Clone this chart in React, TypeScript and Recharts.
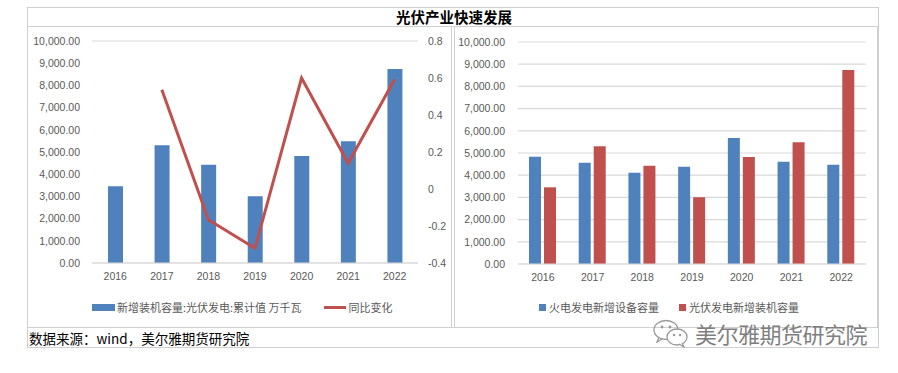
import React from "react";
import { Bar, BarChart, CartesianGrid, ComposedChart, Line, XAxis, YAxis } from "recharts";

const years = ["2016", "2017", "2018", "2019", "2020", "2021", "2022"];
const pvAdded = [3454, 5306, 4426, 3011, 4820, 5488, 8741];
const pvYoy = [null, 0.536, -0.166, -0.32, 0.6, 0.139, 0.593];
const thermalAdded = [4836, 4560, 4110, 4380, 5680, 4610, 4470];

const leftTicks = [0, 1000, 2000, 3000, 4000, 5000, 6000, 7000, 8000, 9000, 10000];
const rightTicks = [-0.4, -0.2, 0, 0.2, 0.4, 0.6, 0.8];

const pvName = "新增装机容量:光伏发电:累计值 万千瓦";
const yoyName = "同比变化";
const thermalName = "火电发电新增设备容量";
const pvName2 = "光伏发电新增装机容量";

const leftData = years.map((y, i) => ({ year: y, pv: pvAdded[i], yoy: pvYoy[i] }));
const rightData = years.map((y, i) => ({ year: y, thermal: thermalAdded[i], pv: pvAdded[i] }));

const BLUE = "#4F81BD";
const RED = "#C0504D";
const GRID = "#d9d9d9";
const TEXT = "#595959";
const FRAME = "#d0d0d0";

const tickFont = { fontSize: 10.5, fill: TEXT, fontFamily: "Liberation Sans, Arial, sans-serif" };
const cjk = '"Noto Sans CJK SC", sans-serif';

const fmtNum = (v: number) =>
  v.toLocaleString("en-US", { minimumFractionDigits: 2, maximumFractionDigits: 2 });
const fmtPct = (v: number) => String(Number(v.toFixed(1)));

function WeChatIcon() {
  return (
    <svg width={40} height={30} viewBox="0 0 40 30">
      <ellipse cx={15} cy={12} rx={12} ry={9.5} fill="none" stroke="#999" strokeWidth={1.3} />
      <path d="M8 19 L6 24 L12 20.5" fill="none" stroke="#999" strokeWidth={1.3} />
      <circle cx={11} cy={9} r={1.4} fill="#999" />
      <circle cx={19} cy={9} r={1.4} fill="#999" />
      <ellipse cx={26} cy={19} rx={10} ry={8} fill="#fff" stroke="#999" strokeWidth={1.3} />
      <path d="M31 25 L33 29 L28 26" fill="#fff" stroke="#999" strokeWidth={1.3} />
      <circle cx={23} cy={17} r={1.2} fill="#999" />
      <circle cx={29} cy={17} r={1.2} fill="#999" />
    </svg>
  );
}

export default function App() {
  return (
    <div style={{ position: "absolute", left: 0, top: 0, width: 898, height: 373, background: "#fff", overflow: "hidden" }}>
      {/* outer frame */}
      <div style={{ position: "absolute", left: 27, top: 7, width: 852, height: 341, border: `1px solid ${FRAME}`, boxSizing: "border-box" }} />
      <div style={{ position: "absolute", left: 27, top: 26, width: 852, height: 1, background: FRAME }} />
      <div style={{ position: "absolute", left: 27, top: 327, width: 852, height: 1, background: FRAME }} />
      <div style={{ position: "absolute", left: 27, top: 7, width: 852, height: 19, textAlign: "center", fontFamily: cjk, fontWeight: 700, fontSize: 14.5, lineHeight: "19px", color: "#000", paddingLeft: 2, boxSizing: "border-box" }}>
        光伏产业快速发展
      </div>

      {/* left panel */}
      <div style={{ position: "absolute", left: 27, top: 27, width: 425, height: 300, borderRight: `1px solid ${FRAME}`, boxSizing: "border-box" }}>
        <ComposedChart width={424} height={300} data={leftData} margin={{ top: 14, right: 0, bottom: 34, left: 0 }}>
          <CartesianGrid vertical={false} stroke={GRID} strokeWidth={1.2} />
          <XAxis dataKey="year" height={30} tick={tickFont} tickLine={false} axisLine={{ stroke: GRID }} tickMargin={4} />
          <YAxis yAxisId="l" width={65} domain={[0, 10000]} ticks={leftTicks} tickFormatter={fmtNum} tick={tickFont} tickLine={false} axisLine={false} tickMargin={6} interval={0} />
          <YAxis yAxisId="r" orientation="right" width={33} domain={[-0.4, 0.8]} ticks={rightTicks} tickFormatter={fmtPct} tick={tickFont} tickLine={false} axisLine={false} tickMargin={4} interval={0} />
          <Bar yAxisId="l" dataKey="pv" name={pvName} fill={BLUE} barSize={15} isAnimationActive={false} />
          <Line yAxisId="r" dataKey="yoy" name={yoyName} stroke={RED} strokeWidth={3} dot={false} connectNulls={false} isAnimationActive={false} />
        </ComposedChart>
      </div>
      <div style={{ position: "absolute", left: 92, top: 299, height: 16, display: "flex", alignItems: "center", fontFamily: cjk, fontSize: 11, color: TEXT, whiteSpace: "nowrap" }}>
        <span style={{ display: "inline-block", width: 23, height: 7, background: BLUE, marginRight: 2 }} />
        <span>{pvName}</span>
        <span style={{ display: "inline-block", width: 22, height: 3, background: RED, marginLeft: 22, marginRight: 3 }} />
        <span>{yoyName}</span>
      </div>

      {/* right panel */}
      <div style={{ position: "absolute", left: 454, top: 27, width: 424, height: 301, borderLeft: `1px solid ${FRAME}`, borderRight: `1px solid ${FRAME}`, boxSizing: "border-box" }}>
        <BarChart width={422} height={301} data={rightData} margin={{ top: 15, right: 11, bottom: 34, left: 0 }} barGap={3}>
          <CartesianGrid vertical={false} stroke={GRID} strokeWidth={1.2} />
          <XAxis dataKey="year" height={30} tick={tickFont} tickLine={false} axisLine={{ stroke: GRID }} tickMargin={4} />
          <YAxis width={63} domain={[0, 10000]} ticks={leftTicks} tickFormatter={fmtNum} tick={tickFont} tickLine={false} axisLine={false} tickMargin={7} interval={0} />
          <Bar dataKey="thermal" name={thermalName} fill={BLUE} barSize={12} isAnimationActive={false} />
          <Bar dataKey="pv" name={pvName2} fill={RED} barSize={12} isAnimationActive={false} />
        </BarChart>
      </div>
      <div style={{ position: "absolute", left: 539, top: 299, height: 16, display: "flex", alignItems: "center", fontFamily: cjk, fontSize: 11, color: TEXT, whiteSpace: "nowrap" }}>
        <span style={{ display: "inline-block", width: 7, height: 7, background: BLUE, marginRight: 3 }} />
        <span>{thermalName}</span>
        <span style={{ display: "inline-block", width: 7, height: 7, background: RED, marginLeft: 20, marginRight: 3 }} />
        <span>{pvName2}</span>
      </div>

      {/* source */}
      <div style={{ position: "absolute", left: 29, top: 328, height: 20, fontFamily: cjk, fontSize: 13.5, lineHeight: "20px", color: "#000", whiteSpace: "nowrap" }}>
        数据来源：wind，美尔雅期货研究院
      </div>

      {/* watermark */}
      <div style={{ position: "absolute", left: 651, top: 317, display: "flex", alignItems: "center", whiteSpace: "nowrap" }}>
        <WeChatIcon />
        <span style={{ fontFamily: cjk, fontSize: 22, color: "#7f7f7f", marginLeft: 4, letterSpacing: -0.5 }}>美尔雅期货研究院</span>
      </div>
    </div>
  );
}
